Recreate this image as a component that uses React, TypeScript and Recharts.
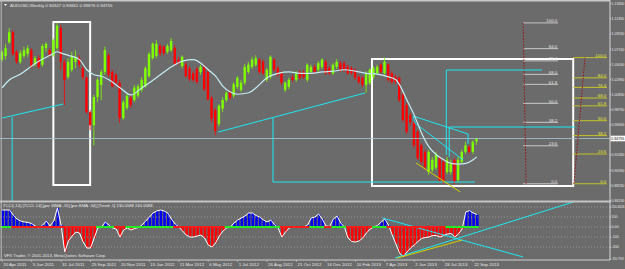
import React from "react";
import {
  ComposedChart,
  Bar,
  Line,
  Scatter,
  XAxis,
  YAxis,
  ReferenceLine,
  ReferenceArea,
  Cell,
} from "recharts";

// weekly AUDUSD candles, 10 Apr 2011 .. 29 Sep 2013
const opens = [
  1.057, 1.062, 1.081, 1.095, 1.068, 1.054, 1.062, 1.065, 1.07, 1.051,
  1.059, 1.05, 1.073, 1.07, 1.063, 1.073, 1.101, 1.054, 1.033, 1.043,
  1.054, 1.059, 1.045, 1.032, 0.984, 0.966, 1.005, 1.022, 1.04, 1.063,
  1.04, 1.036, 1.025, 0.976, 0.99, 1.004, 1.001, 1.007, 1.015, 1.02,
  1.034, 1.059, 1.062, 1.076, 1.075, 1.068, 1.07, 1.073, 1.057, 1.048,
  1.05, 1.045, 1.038, 1.044, 1.04, 1.047, 1.04, 1.004, 0.987, 0.968,
  0.989, 1.001, 1.012, 1.007, 1.019, 1.015, 1.025, 1.04, 1.047, 1.05,
  1.057, 1.054, 1.029, 1.033, 1.057, 1.045, 1.038, 1.015, 1.019, 1.033,
  1.029, 1.04, 1.04, 1.029, 1.04, 1.047, 1.043, 1.047, 1.054, 1.045,
  1.038, 1.047, 1.052, 1.052, 1.047, 1.045, 1.043, 1.033, 1.032, 1.022,
  1.025, 1.033, 1.038, 1.05, 1.038, 1.05, 1.038, 1.033, 1.032, 1.008,
  0.994, 0.98, 0.969, 0.957, 0.938, 0.929, 0.901, 0.904, 0.907, 0.92,
  0.915, 0.901, 0.901, 0.918, 0.89, 0.915, 0.929, 0.936, 0.929, 0.94347,
];
const closes = [
  1.068, 1.073, 1.095, 1.065, 1.054, 1.066, 1.07, 1.073, 1.048, 1.059,
  1.047, 1.076, 1.079, 1.063, 1.084, 1.104, 1.054, 1.029, 1.054, 1.061,
  1.061, 1.05, 1.033, 0.984, 0.966, 1.005, 1.029, 1.04, 1.07, 1.036,
  1.02, 1.025, 0.976, 0.998, 1.007, 0.994, 1.018, 1.02, 1.029, 1.045,
  1.065, 1.079, 1.079, 1.066, 1.066, 1.076, 1.083, 1.051, 1.052, 1.061,
  1.034, 1.03, 1.029, 1.026, 1.047, 1.016, 1.002, 0.975, 0.958, 0.993,
  1.001, 1.011, 1.004, 1.023, 1.032, 1.025, 1.047, 1.05, 1.057, 1.059,
  1.04, 1.038, 1.043, 1.061, 1.043, 1.036, 1.025, 1.025, 1.029, 1.029,
  1.038, 1.032, 1.033, 1.05, 1.047, 1.04, 1.052, 1.057, 1.038, 1.038,
  1.05, 1.054, 1.043, 1.043, 1.038, 1.038, 1.032, 1.026, 1.022, 1.038,
  1.043, 1.045, 1.047, 1.04, 1.054, 1.029, 1.026, 1.026, 1.001, 0.973,
  0.957, 0.97, 0.938, 0.92, 0.915, 0.908, 0.929, 0.918, 0.925, 0.89,
  0.886, 0.918, 0.913, 0.887, 0.918, 0.929, 0.938, 0.929, 0.943, 0.94755,
];
const highs = [
  1.07, 1.079, 1.101, 1.098, 1.07, 1.07, 1.075, 1.077, 1.073, 1.062,
  1.063, 1.079, 1.081, 1.073, 1.087, 1.108, 1.105, 1.057, 1.059, 1.068,
  1.07, 1.063, 1.048, 1.034, 0.987, 1.008, 1.032, 1.043, 1.075, 1.066,
  1.043, 1.038, 1.029, 1.001, 1.009, 1.007, 1.022, 1.023, 1.033, 1.048,
  1.068, 1.081, 1.084, 1.079, 1.077, 1.079, 1.087, 1.077, 1.061, 1.063,
  1.054, 1.048, 1.041, 1.047, 1.05, 1.05, 1.043, 1.007, 0.99, 0.995,
  1.005, 1.013, 1.015, 1.026, 1.034, 1.029, 1.051, 1.054, 1.061, 1.063,
  1.059, 1.057, 1.045, 1.063, 1.059, 1.048, 1.041, 1.027, 1.032, 1.036,
  1.041, 1.043, 1.043, 1.052, 1.05, 1.05, 1.055, 1.059, 1.057, 1.048,
  1.052, 1.058, 1.055, 1.055, 1.05, 1.048, 1.045, 1.036, 1.034, 1.041,
  1.045, 1.048, 1.05, 1.052, 1.0598, 1.052, 1.041, 1.036, 1.034, 1.011,
  0.997, 0.983, 0.972, 0.959, 0.941, 0.932, 0.932, 0.922, 0.929, 0.923,
  0.918, 0.922, 0.918, 0.92, 0.922, 0.932, 0.943, 0.938, 0.945, 0.94841,
];
const lows = [
  1.054, 1.057, 1.079, 1.062, 1.051, 1.051, 1.059, 1.061, 1.045, 1.048,
  1.044, 1.047, 1.068, 1.061, 1.061, 1.07, 1.043, 0.994, 1.03, 1.04,
  1.045, 1.045, 1.029, 0.982, 0.959, 0.938, 0.998, 1.001, 1.036, 1.032,
  1.018, 1.02, 0.969, 0.973, 0.987, 0.99, 0.998, 1.004, 1.012, 1.018,
  1.032, 1.057, 1.059, 1.062, 1.063, 1.065, 1.068, 1.048, 1.05, 1.045,
  1.032, 1.027, 1.026, 1.023, 1.036, 1.013, 1.0, 0.97, 0.952, 0.964,
  0.984, 0.998, 1.001, 1.004, 1.016, 1.012, 1.022, 1.037, 1.044, 1.047,
  1.037, 1.036, 1.026, 1.03, 1.04, 1.033, 1.022, 1.012, 1.016, 1.026,
  1.026, 1.029, 1.03, 1.026, 1.037, 1.037, 1.04, 1.044, 1.036, 1.036,
  1.036, 1.044, 1.04, 1.04, 1.036, 1.036, 1.029, 1.023, 1.019, 1.011,
  1.022, 1.03, 1.036, 1.037, 1.036, 1.026, 1.023, 1.023, 0.998, 0.97,
  0.954, 0.966, 0.934, 0.918, 0.911, 0.904, 0.897, 0.901, 0.904, 0.887,
  0.8847, 0.898, 0.897, 0.884, 0.887, 0.912, 0.926, 0.926, 0.926, 0.93876,
];

// moving average read at sample weeks
const maWeeks = [
  0, 2, 5, 8, 10, 13, 15, 16, 18, 21, 23, 25, 27, 29, 32, 35, 38, 40, 43, 46,
  49, 52, 54, 56, 58, 60, 62, 64, 67, 69, 72, 75, 78, 81, 84, 87, 90, 93, 96,
  99, 102, 105, 107, 108, 110, 112, 114, 116, 118, 120, 122, 124, 126, 128, 129,
];
const maValues = [
  1.018, 1.029, 1.037, 1.048, 1.055, 1.063, 1.068, 1.066, 1.063, 1.057, 1.043,
  1.036, 1.034, 1.029, 1.018, 1.008, 1.018, 1.025, 1.036, 1.047, 1.055, 1.057,
  1.052, 1.043, 1.034, 1.02, 1.012, 1.009, 1.011, 1.018, 1.032, 1.038, 1.04,
  1.038, 1.038, 1.04, 1.041, 1.043, 1.041, 1.038, 1.037, 1.033, 1.029, 1.022,
  1.001, 0.98, 0.955, 0.936, 0.925, 0.918, 0.913, 0.912, 0.913, 0.918, 0.922,
];

// TCCI(14) per week
const cciValues = [
  170, 170, 170, 120, 80, 60, 50, 45, 35, 10,
  -10, 20, 60, 10, 60, 190, 20, -250, -140, -90,
  -50, -60, -150, -210, -210, -110, -10, 0, 50, 20,
  -10, -20, -100, -30, -10, -30, -15, -5, 20, 60,
  100, 140, 160, 170, 160, 140, 80, 30, 0, -40,
  -80, -100, -100, -90, -80, -110, -180, -200, -160, -90,
  -40, -10, 0, 40, 70, 90, 110, 140, 140, 115,
  100, 70, 50, 70, 25, -10, -100, -50, -10, 0,
  0, 0, 0, 20, 90, 100, 130, 80, 10, 5,
  80, 110, 40, 0, -110, -145, -150, -140, -110, -60,
  -20, 0, 15, 50, 80, 20, -80, -170, -260, -300,
  -250, -210, -180, -145, -115, -105, -100, -85, -85, -100,
  -85, -70, -65, -100, -70, -20, 150, 165, 140, 125,
];
// trend line runs: [colour, weeks]
const trendRuns: [string, number][] = [
  ["g", 3], ["r", 23], ["g", 5], ["r", 3], ["g", 13], ["r", 14], ["g", 15],
  ["r", 8], ["g", 4], ["r", 2], ["g", 4], ["r", 7], ["g", 4], ["r", 16], ["g", 9],
];

const priceTicks = [
  1.1345, 1.1135, 1.0925, 1.0715, 1.0505, 1.0295, 1.0085, 0.9875, 0.9665,
  0.9245, 0.9035, 0.8825, 0.8615,
];
const cciTicks = [200.4026, 100, 0, -100, -200, -320.7959];
const dateWeeks = [0, 8, 16, 24, 32, 40, 48, 56, 64, 72, 80, 88, 96, 104, 112, 120, 128];
const dateLabels = [
  "20 Apr 2011", "5 Jun 2011", "31 Jul 2011", "25 Sep 2011", "20 Nov 2011",
  "15 Jan 2012", "11 Mar 2012", "6 May 2012", "1 Jul 2012", "26 Aug 2012",
  "21 Oct 2012", "16 Dec 2012", "10 Feb 2013", "7 Apr 2013", "2 Jun 2013",
  "28 Jul 2013", "22 Sep 2013",
];
const fibLevels = [0, 23.6, 38.2, 50, 61.8, 68.0, 76.4, 84.0, 100];
const lastPrice = 0.94755;

const trend: string[] = [];
trendRuns.forEach(([c, n]) => {
  for (let k = 0; k < n; k++) trend.push(c);
});

const rows = opens.map((o, i) => ({
  i,
  open: o,
  high: highs[i],
  low: lows[i],
  close: closes[i],
  ma: null as number | null,
  cci: cciValues[i],
  zero: 0,
  trend: trend[i],
}));
maWeeks.forEach((w, j) => {
  rows[w].ma = maValues[j];
});

const BG = "#6b6b6b";
const UP = "#80ff00";
const DOWN = "#ff0000";
const CYAN = "#1ee8f2";
const YELLOW = "#d4d400";
const FIB_GREY = "#c8c8c8";
const FIB_YEL = "#c4c42c";
const TXT = "#e8e8e8";
const FONT = "Liberation Sans, Arial, sans-serif";
const X_DOMAIN: [number, number] = [-0.6, 165.2];

// drawings on the price pane (week index, price)
const boxes = [
  { x1: 13.9, x2: 23.9, y1: 0.883, y2: 1.1092 },
  { x1: 100.5, x2: 155.2, y1: 0.8816, y2: 1.0579 },
];
const cyanSegs = [
  [[0, 0.976], [16.6, 0.9954]],
  [[2.7, 0.9773], [2.7, 0.8594]],
  [[58.7, 0.9565], [98.6, 1.0107]],
  [[73.6, 0.976], [73.6, 0.8871]],
  [[73.6, 0.8871], [128.5, 0.8871]],
  [[120.7, 1.0426], [146.7, 1.0426]],
  [[120.7, 1.0426], [120.7, 0.9246]],
  [[121.5, 0.9635], [121.5, 0.9218]],
  [[121.5, 0.9635], [155.7, 0.9635]],
  [[111.7, 0.9787], [126.6, 0.9538]],
  [[112.2, 0.969], [125.3, 0.9177]],
  [[111.7, 0.9787], [112.2, 0.969]],
  [[126.6, 0.9538], [126.6, 0.94]],
];
const yellowSegs = [[[112.5, 0.9135], [124.5, 0.8733]]];
const fibs = [
  { x1: 141.6, x2: 151.1, lo: 0.8847, hi: 1.108, line: FIB_GREY, text: "#e0e0e0", rx1: 142.4, rx2: 141.6 },
  { x1: 155.2, x2: 164.4, lo: 0.8847, hi: 1.0598, line: FIB_YEL, text: "#e6e63c", rx1: 155.4, rx2: 158.4 },
];
// drawings on the TCCI pane (week index, value)
const cciSegs = [
  { c: CYAN, p: [[106.8, -310], [155.2, 250]] },
  { c: CYAN, p: [[103.3, 90], [141.6, -300]] },
  { c: YELLOW, p: [[107.3, -312], [125, -130]] },
];

const Candle = (props: any) => {
  const { x, y, width, height, payload } = props;
  if (!payload || height == null) return null;
  const { open, close, high, low } = payload;
  const k = height / (high - low || 1);
  const top = y + (high - Math.max(open, close)) * k;
  const bot = y + (high - Math.min(open, close)) * k;
  const cx = x + width / 2;
  const col = close >= open ? UP : DOWN;
  return (
    <g>
      <line x1={cx} x2={cx} y1={y} y2={y + height} stroke={col} strokeWidth={0.8} />
      <rect x={cx - 1.2} y={top} width={2.4} height={Math.max(bot - top, 0.8)} fill={col} />
    </g>
  );
};

const TrendDot = (props: any) => {
  const { cx, cy, payload } = props;
  if (cx == null) return null;
  return (
    <rect
      x={cx - 1.9}
      y={cy - 1}
      width={3.8}
      height={2}
      fill={payload.trend === "g" ? "#22ee22" : "#ff1a1a"}
    />
  );
};

const DateTick = (props: any) => {
  const { x, y, payload } = props;
  const idx = dateWeeks.indexOf(payload.value);
  return (
    <g>
      <line x1={x} x2={x} y1={y} y2={y + 2} stroke="#d0d0d0" strokeWidth={0.6} />
      <text x={x + 1} y={y + 5.6} fontSize={4.4} fill={TXT} fontFamily={FONT}>
        {dateLabels[idx]}
      </text>
    </g>
  );
};

// right-hand axis label, shrunk so it ends inside the 625px frame
const fitSize = (s: string) => Math.min(3.7, 13.2 / (s.length * 0.53));

const AxisTick = (props: any) => {
  const { x, y, payload, fmt } = props;
  const s: string = fmt(payload.value);
  return (
    <text x={x} y={y + 1.3} fontSize={fitSize(s)} fill={TXT} fontFamily={FONT}>
      {s}
    </text>
  );
};

const priceFmt = (v: number) => v.toFixed(5);
const cciFmt = (v: number) =>
  v === 0 ? "0.00" : Number.isInteger(v) ? String(v) : v.toFixed(4);

const PriceBox = (props: any) => {
  const vb = props.viewBox || {};
  const x = (vb.x || 0) + (vb.width || 0);
  const s = lastPrice.toFixed(5);
  return (
    <g>
      <rect x={x + 0.5} y={vb.y - 2.8} width={14.5} height={5.6} fill="#ffffff" />
      <text x={x + 1.3} y={vb.y + 1.3} fontSize={fitSize(s)} fill="#000" fontFamily={FONT}>
        {s}
      </text>
    </g>
  );
};

const fibLabel = (value: string, fill: string) => ({
  value,
  position: "insideBottomRight" as const,
  offset: 0.8,
  fill,
  fontSize: 4.4,
  fontFamily: FONT,
});

const seg = (s: number[][]) => [
  { x: s[0][0], y: s[0][1] },
  { x: s[1][0], y: s[1][1] },
];

export default function App() {
  return (
    <div
      style={{
        position: "fixed",
        left: 0,
        top: 0,
        width: 625,
        height: 269,
        background: BG,
        overflow: "hidden",
      }}
    >
      <div style={{ position: "absolute", left: 0, top: 0 }}>
        <ComposedChart
          width={625}
          height={202}
          data={rows}
          margin={{ top: 0, right: 0, bottom: 0, left: 0 }}
        >
          <XAxis dataKey="i" type="number" domain={X_DOMAIN} hide allowDataOverflow />
          <YAxis
            orientation="right"
            width={15}
            domain={[0.8594, 1.1398]}
            ticks={priceTicks}
            interval={0}
            allowDataOverflow
            tick={<AxisTick fmt={priceFmt} />}
            tickSize={1}
            tickMargin={0.5}
            axisLine={{ stroke: "#d8d8d8" }}
            tickLine={{ stroke: "#d8d8d8" }}
          />
          <ReferenceLine y={lastPrice} stroke="#a9c8d8" strokeWidth={0.8} label={<PriceBox />} />
          {boxes.map((b, k) => (
            <ReferenceArea
              key={"b" + k}
              x1={b.x1}
              x2={b.x2}
              y1={b.y1}
              y2={b.y2}
              fill="none"
              fillOpacity={0}
              stroke="#ffffff"
              strokeWidth={2}
              ifOverflow="visible"
            />
          ))}
          {fibs.map((f, k) =>
            fibLevels.map((lv) => (
              <ReferenceLine
                key={"f" + k + lv}
                segment={[
                  { x: f.x1, y: f.lo + ((f.hi - f.lo) * lv) / 100 },
                  { x: f.x2, y: f.lo + ((f.hi - f.lo) * lv) / 100 },
                ]}
                stroke={f.line}
                strokeWidth={1}
                ifOverflow="visible"
                label={fibLabel(lv.toFixed(1), f.text)}
              />
            ))
          )}
          {fibs.map((f, k) => (
            <ReferenceLine
              key={"fr" + k}
              segment={[
                { x: f.rx1, y: f.lo },
                { x: f.rx2, y: f.hi },
              ]}
              stroke="#9a1010"
              strokeWidth={1}
              strokeDasharray="1.5 1.5"
              ifOverflow="visible"
            />
          ))}
          {cyanSegs.map((s, k) => (
            <ReferenceLine key={"c" + k} segment={seg(s)} stroke={CYAN} strokeWidth={1} ifOverflow="visible" />
          ))}
          {yellowSegs.map((s, k) => (
            <ReferenceLine key={"y" + k} segment={seg(s)} stroke={YELLOW} strokeWidth={1} ifOverflow="visible" />
          ))}
          <Bar
            dataKey={(d: any) => [d.low, d.high]}
            barSize={3}
            shape={<Candle />}
            isAnimationActive={false}
          />
          <Line
            dataKey="ma"
            type="monotone"
            connectNulls
            stroke="#c4eef4"
            strokeWidth={1.2}
            dot={false}
            activeDot={false}
            isAnimationActive={false}
          />
        </ComposedChart>
      </div>

      <div style={{ position: "absolute", left: 0, top: 202 }}>
        <ComposedChart
          width={625}
          height={67}
          data={rows}
          margin={{ top: 0, right: 0, bottom: 0, left: 0 }}
        >
          <XAxis
            dataKey="i"
            type="number"
            domain={X_DOMAIN}
            ticks={dateWeeks}
            interval={0}
            allowDataOverflow
            height={9}
            tick={<DateTick />}
            tickLine={false}
            tickSize={0}
            tickMargin={0}
            axisLine={{ stroke: "#d0d0d0" }}
          />
          <YAxis
            orientation="right"
            width={15}
            domain={[-330, 250]}
            ticks={cciTicks}
            interval={0}
            allowDataOverflow
            tick={<AxisTick fmt={cciFmt} />}
            tickSize={1}
            tickMargin={0.5}
            axisLine={{ stroke: "#d8d8d8" }}
            tickLine={{ stroke: "#d8d8d8" }}
          />
          {[200, 100, 0, -100, -200].map((v) => (
            <ReferenceLine key={"g" + v} y={v} stroke="#a8a8a8" strokeDasharray="1 2" strokeWidth={0.7} />
          ))}
          <Bar dataKey="cci" barSize={2.6} isAnimationActive={false}>
            {rows.map((r) => (
              <Cell key={"h" + r.i} fill={r.cci >= 0 ? "#0000f0" : "#ff0000"} />
            ))}
          </Bar>
          <Scatter dataKey="zero" shape={<TrendDot />} isAnimationActive={false} />
          <Line
            dataKey="cci"
            type="linear"
            stroke="#ffffff"
            strokeWidth={1}
            dot={false}
            activeDot={false}
            isAnimationActive={false}
          />
          {cciSegs.map((s, k) => (
            <ReferenceLine key={"cs" + k} segment={seg(s.p)} stroke={s.c} strokeWidth={1} ifOverflow="visible" />
          ))}
        </ComposedChart>
      </div>

      <svg
        width={625}
        height={269}
        style={{ position: "absolute", left: 0, top: 0, pointerEvents: "none" }}
        fontFamily={FONT}
      >
        <line x1={0} x2={610} y1={0.8} y2={0.8} stroke="#c8c8c8" strokeWidth={1.4} />
        <line x1={1.2} x2={1.2} y1={0} y2={260} stroke="#bdbdbd" strokeWidth={1} />
        <rect x={0} y={200.5} width={611} height={2} fill="#c4c4c4" />
        <path d="M4 4 L7 4 L5.5 6 Z" fill="#ffffff" />
        <text x={10} y={6.5} fontSize={4.4} fill={TXT}>
          AUDUSD,Weekly  0.94347 0.94841 0.93876 0.94755
        </text>
        <text x={3} y={207} fontSize={4.2} fill={TXT}>
          TCCI( 14) [TCCI: 14] [per WMA: 15] [per EMA: 34] [Trend: 1] 130.0588 130.0588
        </text>
        <text x={4} y={257} fontSize={4.2} fill={TXT}>
          VFX Trader, © 2001-2013, MetaQuotes Software Corp.
        </text>
      </svg>
    </div>
  );
}
